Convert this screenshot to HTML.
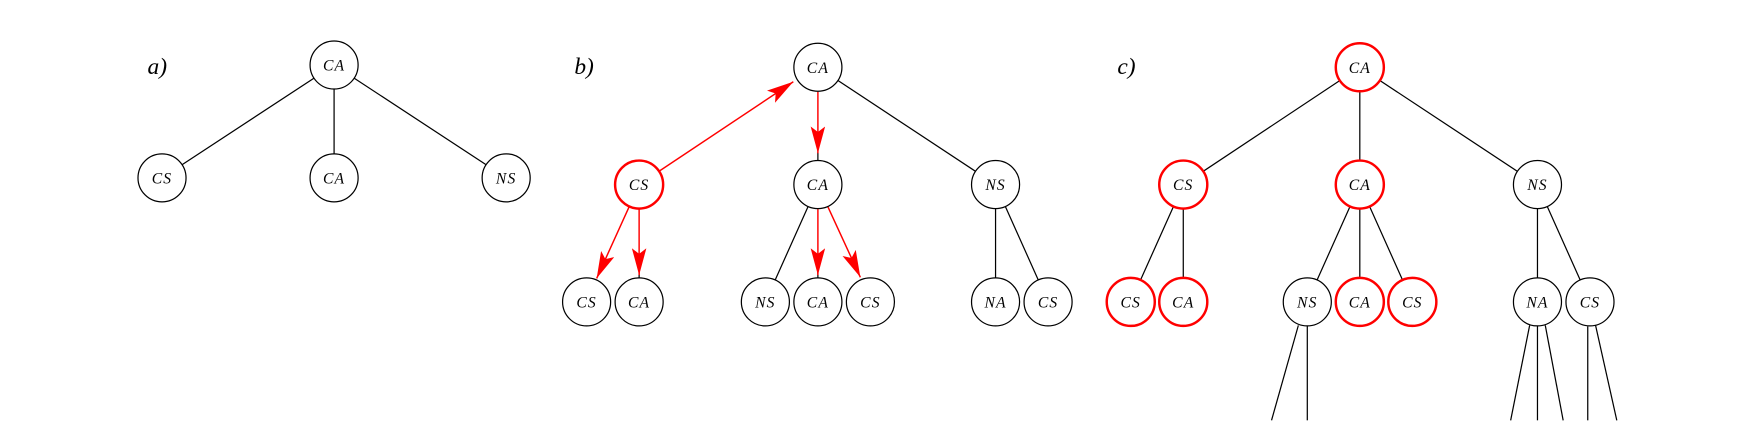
<!DOCTYPE html>
<html><head><meta charset="utf-8"><style>
html,body{margin:0;padding:0;background:#fff;}
svg{display:block;}
text{font-family:"Liberation Serif",serif;font-style:italic;}
</style></head><body>
<svg width="1752" height="444" viewBox="0 0 1568 397" xmlns="http://www.w3.org/2000/svg">
<defs>
<marker id="ah" markerUnits="userSpaceOnUse" markerWidth="26" markerHeight="14" refX="24" refY="6.5" orient="auto">
<path d="M0,0 L24,6.5 L0,13 L5,6.5 z" fill="#f00"/>
</marker>
</defs>
<g stroke="#000" stroke-width="1.1" fill="none">
<line x1="299" y1="58" x2="145" y2="159"/>
<line x1="299" y1="58" x2="299" y2="159"/>
<line x1="299" y1="58" x2="453" y2="159"/>
<line x1="732" y1="60" x2="891" y2="165"/>
<line x1="732" y1="136" x2="732" y2="165"/>
<line x1="572" y1="240" x2="572" y2="270"/>
<line x1="732" y1="240" x2="732" y2="270"/>
<line x1="732" y1="165" x2="685" y2="270"/>
<line x1="891" y1="165" x2="891" y2="270"/>
<line x1="891" y1="165" x2="938" y2="270"/>
<line x1="1217" y1="60" x2="1059" y2="165"/>
<line x1="1217" y1="60" x2="1217" y2="165"/>
<line x1="1217" y1="60" x2="1376" y2="165"/>
<line x1="1059" y1="165" x2="1012" y2="270"/>
<line x1="1059" y1="165" x2="1059" y2="270"/>
<line x1="1217" y1="165" x2="1170" y2="270"/>
<line x1="1217" y1="165" x2="1217" y2="270"/>
<line x1="1217" y1="165" x2="1264" y2="270"/>
<line x1="1376" y1="165" x2="1376" y2="270"/>
<line x1="1376" y1="165" x2="1423" y2="270"/>
<line x1="1162" y1="291" x2="1138" y2="376"/>
<line x1="1170" y1="292" x2="1170" y2="376"/>
<line x1="1369" y1="291" x2="1352" y2="376"/>
<line x1="1376" y1="292" x2="1376" y2="376"/>
<line x1="1383" y1="291" x2="1399" y2="376"/>
<line x1="1421" y1="292" x2="1421" y2="376"/>
<line x1="1428" y1="291" x2="1447" y2="376"/>
</g>
<g stroke="#f00" stroke-width="1.3" fill="none" marker-end="url(#ah)">
<line x1="590" y1="153" x2="710" y2="73"/>
<line x1="732" y1="82" x2="732" y2="137"/>
<line x1="563" y1="185" x2="534" y2="249"/>
<line x1="572" y1="187" x2="572" y2="246"/>
<line x1="732" y1="187" x2="732" y2="246"/>
<line x1="741" y1="185" x2="770" y2="248"/>
</g>
<g fill="#fff" stroke="#000" stroke-width="1.1">
<circle cx="299" cy="58" r="21.5"/>
<circle cx="145" cy="159" r="21.5"/>
<circle cx="299" cy="159" r="21.5"/>
<circle cx="453" cy="159" r="21.5"/>
<circle cx="732" cy="60" r="21.5"/>
<circle cx="732" cy="165" r="21.5"/>
<circle cx="891" cy="165" r="21.5"/>
<circle cx="525" cy="270" r="21.5"/>
<circle cx="572" cy="270" r="21.5"/>
<circle cx="685" cy="270" r="21.5"/>
<circle cx="732" cy="270" r="21.5"/>
<circle cx="779" cy="270" r="21.5"/>
<circle cx="891" cy="270" r="21.5"/>
<circle cx="938" cy="270" r="21.5"/>
<circle cx="1376" cy="165" r="21.5"/>
<circle cx="1170" cy="270" r="21.5"/>
<circle cx="1376" cy="270" r="21.5"/>
<circle cx="1423" cy="270" r="21.5"/>
</g>
<g fill="#fff" stroke="#f00" stroke-width="2.2">
<circle cx="572" cy="165" r="21.5"/>
<circle cx="1217" cy="60" r="21.5"/>
<circle cx="1059" cy="165" r="21.5"/>
<circle cx="1217" cy="165" r="21.5"/>
<circle cx="1012" cy="270" r="21.5"/>
<circle cx="1059" cy="270" r="21.5"/>
<circle cx="1217" cy="270" r="21.5"/>
<circle cx="1264" cy="270" r="21.5"/>
</g>
<g font-size="14" letter-spacing="1" text-anchor="middle" fill="#000">
<text x="299" y="63">CA</text>
<text x="145" y="164">CS</text>
<text x="299" y="164">CA</text>
<text x="453" y="164">NS</text>
<text x="732" y="65">CA</text>
<text x="572" y="170">CS</text>
<text x="732" y="170">CA</text>
<text x="891" y="170">NS</text>
<text x="525" y="275">CS</text>
<text x="572" y="275">CA</text>
<text x="685" y="275">NS</text>
<text x="732" y="275">CA</text>
<text x="779" y="275">CS</text>
<text x="891" y="275">NA</text>
<text x="938" y="275">CS</text>
<text x="1217" y="65">CA</text>
<text x="1059" y="170">CS</text>
<text x="1217" y="170">CA</text>
<text x="1376" y="170">NS</text>
<text x="1012" y="275">CS</text>
<text x="1059" y="275">CA</text>
<text x="1170" y="275">NS</text>
<text x="1217" y="275">CA</text>
<text x="1264" y="275">CS</text>
<text x="1376" y="275">NA</text>
<text x="1423" y="275">CS</text>
</g>
<g font-size="21" fill="#000">
<text x="132" y="66">a)</text>
<text x="514" y="66">b)</text>
<text x="1000" y="66">c)</text>
</g>
</svg>
</body></html>
